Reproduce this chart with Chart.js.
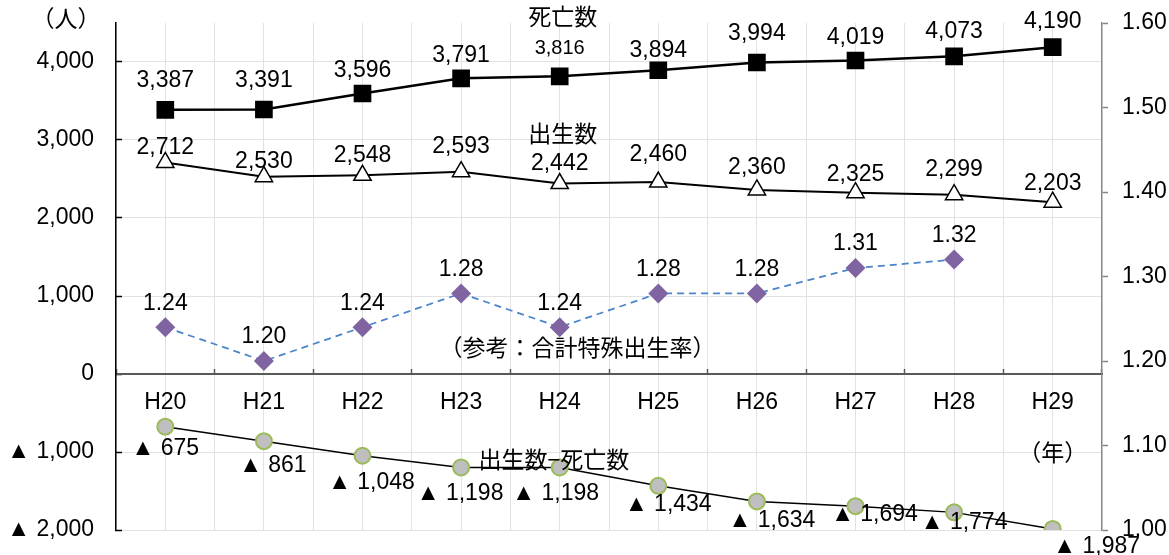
<!DOCTYPE html>
<html>
<head>
<meta charset="utf-8">
<title>死亡数・出生数の推移</title>
<script src="https://cdn.jsdelivr.net/npm/chart.js@4.4.1/dist/chart.umd.min.js"></script>
<style>
  html, body { margin: 0; padding: 0; background: #fff; }
  #wrap { width: 1169px; height: 555px; position: relative; }
</style>
</head>
<body>
<div id="wrap"><canvas id="chart" width="1169" height="555"></canvas></div>
<script>
// Fiscal years (Heisei era)
const years = ['H20', 'H21', 'H22', 'H23', 'H24', 'H25', 'H26', 'H27', 'H28', 'H29'];

// People per year
const deaths = [3387, 3391, 3596, 3791, 3816, 3894, 3994, 4019, 4073, 4190];
const births = [2712, 2530, 2548, 2593, 2442, 2460, 2360, 2325, 2299, 2203];

// Births minus deaths (negative = natural decrease, shown with ▲)
const naturalChange = [-675, -861, -1048, -1198, -1198, -1434, -1634, -1694, -1774, -1987];

// Total fertility rate (reference, right axis); no figure for H29
const fertilityRate = [1.24, 1.20, 1.24, 1.28, 1.24, 1.28, 1.28, 1.31, 1.32, null];

// Axis ticks
const countTicks = [-2000, -1000, 0, 1000, 2000, 3000, 4000];
const rateTicks = [1.00, 1.10, 1.20, 1.30, 1.40, 1.50, 1.60];

const NUM_FONT = "'Liberation Sans', Arial, sans-serif";
const JP_FONT = "'Noto Sans CJK JP', 'Noto Sans CJK SC', sans-serif";
const GRID = '#E2E2E2';
const NUM_SIZE = 23;

const fmtCount = v => (v < 0 ? '▲ ' : '') + Math.abs(v).toLocaleString('en-US');

// Scales keep exactly the box they are given, with no extra label padding
const noPad = s => { s.paddingTop = 0; s.paddingBottom = 0; s.paddingLeft = 0; s.paddingRight = 0; };

// Offset option may be one number or one number per point
const pick = (o, i) => Array.isArray(o) ? o[i] : (o || 0);

// Value labels next to each point
const valueLabels = {
  id: 'valueLabels',
  afterDatasetsDraw(chart) {
    const ctx = chart.ctx;
    ctx.save();
    ctx.fillStyle = '#000';
    ctx.textAlign = 'center';
    ctx.textBaseline = 'middle';
    chart.data.datasets.forEach((ds, di) => {
      const meta = chart.getDatasetMeta(di);
      const opt = ds.valueLabel;
      if (!opt) return;
      meta.data.forEach((el, i) => {
        const v = ds.data[i];
        if (v === null || v === undefined) return;
        ctx.font = pick(opt.size || NUM_SIZE, i) + 'px ' + NUM_FONT;
        ctx.fillText(opt.format(v), el.x + pick(opt.dx, i), el.y + pick(opt.dy, i));
      });
    });
    ctx.restore();
  }
};

// Series names and unit captions
const captions = {
  id: 'captions',
  afterDraw(chart) {
    const { ctx, scales } = chart;
    const x = scales.x, y = scales.y;
    const items = [
      { text: '死亡数', px: x.getPixelForValue(4.03), py: y.getPixelForValue(4580) },
      { text: '出生数', px: x.getPixelForValue(4.03), py: y.getPixelForValue(3090) },
      { text: '（参考：合計特殊出生率）', px: x.getPixelForValue(4.18), py: y.getPixelForValue(346) },
      { text: '出生数−死亡数', px: x.getPixelForValue(3.94), py: y.getPixelForValue(-1090) },
      { text: '（年）', px: x.getPixelForValue(9.0), py: y.getPixelForValue(-1000) },
      { text: '（人）', px: y.left + 66, py: y.getPixelForValue(4560) }
    ];
    ctx.save();
    ctx.fillStyle = '#000';
    ctx.textAlign = 'center';
    ctx.textBaseline = 'middle';
    ctx.font = '23px ' + JP_FONT;
    items.forEach(it => ctx.fillText(it.text, it.px, it.py));
    ctx.restore();
  }
};

new Chart(document.getElementById('chart'), {
  type: 'line',
  data: {
    labels: years,
    datasets: [
      {
        label: '死亡数',
        data: deaths,
        yAxisID: 'y',
        borderColor: '#000',
        borderWidth: 2.5,
        pointStyle: 'rect',
        pointRadius: 12.5,
        pointBackgroundColor: '#000',
        pointBorderColor: '#000',
        pointBorderWidth: 0,
        valueLabel: {
          dy: [-29, -29, -23, -23, -28, -20, -29, -23, -25, -26],
          size: [23, 23, 23, 23, 20, 23, 23, 23, 23, 23],
          format: fmtCount
        }
      },
      {
        label: '出生数',
        data: births,
        yAxisID: 'y',
        borderColor: '#000',
        borderWidth: 2,
        pointStyle: 'triangle',
        pointRadius: 10,
        pointBackgroundColor: '#fff',
        pointBorderColor: '#000',
        pointBorderWidth: 1.5,
        valueLabel: {
          dy: [-15, -15, -20, -25, -20, -27, -22, -18, -25, -19],
          format: fmtCount
        }
      },
      {
        label: '合計特殊出生率',
        data: fertilityRate,
        yAxisID: 'y1',
        borderColor: '#4A85CC',
        borderWidth: 1.75,
        borderDash: [7, 5],
        pointStyle: 'rectRot',
        pointRadius: 10,
        pointBackgroundColor: '#8064A2',
        pointBorderColor: '#8064A2',
        pointBorderWidth: 0,
        valueLabel: { dy: -24, format: v => v.toFixed(2) }
      },
      {
        label: '出生数−死亡数',
        data: naturalChange,
        yAxisID: 'y',
        borderColor: '#000',
        borderWidth: 1.5,
        pointStyle: 'circle',
        pointRadius: 8,
        pointBackgroundColor: '#BFBFBF',
        pointBorderColor: '#9BBB59',
        pointBorderWidth: 2,
        valueLabel: {
          dx: [0, 9, 9, -1, -4, 10, 15, 19, 10, 44],
          dy: [22, 24, 27, 26, 26, 19, 19, 9, 10, 18],
          format: fmtCount
        }
      }
    ]
  },
  options: {
    responsive: false,
    animation: false,
    devicePixelRatio: 1,
    layout: { padding: { top: 23, left: 0, right: 0, bottom: 25 } },
    plugins: {
      legend: { display: false },
      tooltip: { enabled: false }
    },
    elements: { line: { tension: 0 } },
    scales: {
      x: {
        type: 'category',
        position: { y: 0 },
        offset: true,
        grid: {
          offset: true,
          color: GRID,
          lineWidth: 1,
          tickLength: -6,
          tickColor: '#595959',
          tickWidth: 1.5
        },
        border: { color: '#595959', width: 2 },
        ticks: {
          color: '#000',
          font: { family: NUM_FONT, size: NUM_SIZE },
          padding: 21,
          maxRotation: 0,
          autoSkip: false
        },
        afterFit(scale) { scale.height = 0; noPad(scale); }
      },
      xMid: {
        type: 'category',
        position: 'bottom',
        offset: true,
        grid: { offset: false, color: GRID, lineWidth: 1, drawTicks: false },
        border: { display: false },
        ticks: { display: false },
        afterFit(scale) { scale.height = 0; noPad(scale); }
      },
      y: {
        type: 'linear',
        position: 'left',
        min: -2000,
        max: 4500,
        afterBuildTicks(scale) { scale.ticks = countTicks.map(v => ({ value: v })); },
        grid: {
          color: GRID,
          lineWidth: 1,
          tickLength: -6,
          tickColor: '#000',
          tickWidth: 1.5
        },
        border: { color: '#000', width: 1.5 },
        ticks: {
          color: '#000',
          font: { family: NUM_FONT, size: NUM_SIZE },
          padding: 28,
          callback: v => fmtCount(v)
        },
        afterFit(scale) { scale.width = 116; noPad(scale); }
      },
      y1: {
        type: 'linear',
        position: 'right',
        min: 1.0,
        max: 1.6,
        afterBuildTicks(scale) { scale.ticks = rateTicks.map(v => ({ value: v })); },
        grid: {
          drawOnChartArea: false,
          tickLength: 6,
          tickColor: '#868686',
          tickWidth: 1.5
        },
        border: { color: '#868686', width: 1.5 },
        ticks: {
          color: '#000',
          font: { family: NUM_FONT, size: NUM_SIZE },
          padding: 14,
          callback: v => v.toFixed(2)
        },
        afterFit(scale) { scale.width = 67; noPad(scale); }
      }
    }
  },
  plugins: [valueLabels, captions]
});
</script>
</body>
</html>
